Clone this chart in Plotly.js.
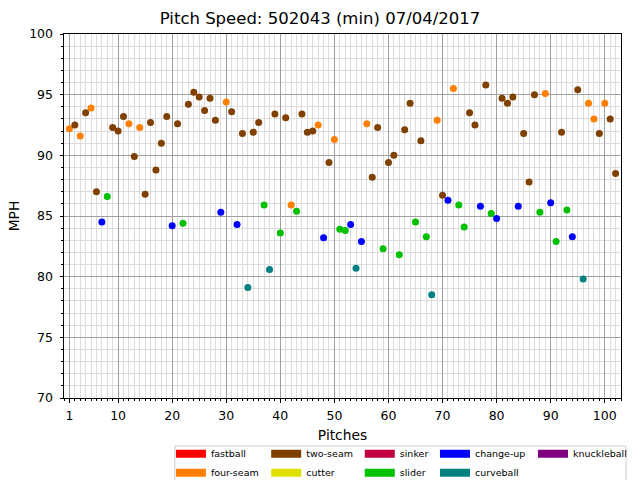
<!DOCTYPE html>
<html>
<head>
<meta charset="utf-8">
<script src="https://cdn.plot.ly/plotly-3.0.1.min.js"></script>
<style>html,body{margin:0;padding:0;background:#fff}</style>
</head>
<body>
<div id="chart" style="width:640px;height:480px"></div>
<script>
// speed of each pitch in mph, in throwing order
var speeds = [
    92.2, 92.5, 91.6, 93.5, 93.9, 87.0, 84.5, 86.6, 92.3, 92.0,
    93.2, 92.6, 89.9, 92.3, 86.8, 92.7, 88.8, 91.0, 93.2, 84.2,
    92.6, 84.4, 94.2, 95.2, 94.8, 93.7, 94.7, 92.9, 85.3, 94.4,
    93.6, 84.3, 91.8, 79.1, 91.9, 92.7, 85.9, 80.6, 93.4, 83.6,
    93.1, 85.9, 85.4, 93.4, 91.9, 92.0, 92.5, 83.2, 89.4, 91.3,
    83.9, 83.8, 84.3, 80.7, 82.9, 92.6, 88.2, 92.3, 82.3, 89.4,
    90.0, 81.8, 92.1, 94.3, 84.5, 91.2, 83.3, 78.5, 92.9, 86.7,
    86.3, 95.5, 85.9, 84.1, 93.5, 92.5, 85.8, 95.8, 85.2, 84.8,
    94.7, 94.3, 94.8, 85.8, 91.8, 87.8, 95.0, 85.3, 95.1, 86.1,
    82.9, 91.9, 85.5, 83.3, 95.4, 79.8, 94.3, 93.0, 91.8, 94.3,
    93.0, 88.5
];

// pitch type code of each pitch, same order
var types = [
    'FF','FT','FF','FT','FF','FT','CH','SL','FT','FT',
    'FT','FF','FT','FF','FT','FT','FT','FT','FT','CH',
    'FT','SL','FT','FT','FT','FT','FT','FT','CH','FF',
    'FT','CH','FT','CU','FT','FT','SL','CU','FT','SL',
    'FT','FF','SL','FT','FT','FT','FF','CH','FT','FF',
    'SL','SL','CH','CU','CH','FF','FT','FT','SL','FT',
    'FT','SL','FT','FT','SL','FT','SL','CU','FF','FT',
    'CH','FF','SL','SL','FT','FT','CH','FT','SL','CH',
    'FT','FT','FT','CH','FT','FT','FT','SL','FF','CH',
    'SL','FT','SL','CH','FT','CU','FF','FF','FT','FF',
    'FT','FT'
];

var typeCodes = ['FA', 'FF', 'FT', 'FC', 'SI', 'SL', 'CH', 'CU', 'KN'];
var typeNames = ['fastball', 'four-seam', 'two-seam', 'cutter', 'sinker',
                 'slider', 'change-up', 'curveball', 'knuckleball'];
var typeColors = ['#ff0000', '#ff8000', '#804000', '#e0e000', '#c00040',
                  '#00c000', '#0000ff', '#008080', '#800080'];

var xTicks = [1, 10, 20, 30, 40, 50, 60, 70, 80, 90, 100];

var pitchNo = speeds.map(function(s, i) { return i + 1; });
var legendIds = ['legend', 'legend2', 'legend3', 'legend4', 'legend5'];

var data = [];
typeCodes.forEach(function(code, k) {
    var xs = [], ys = [];
    types.forEach(function(t, i) {
        if (t === code) {
            xs.push(pitchNo[i]);
            ys.push(speeds[i]);
        }
    });
    if (xs.length) {
        data.push({
            x: xs, y: ys,
            type: 'scatter', mode: 'markers',
            name: typeNames[k],
            marker: {color: typeColors[k], size: 7},
            showlegend: false
        });
    }
});

// legend patches, two per column like the original
typeCodes.forEach(function(code, k) {
    data.push({
        x: [null], y: [null],
        type: 'scatter', mode: 'lines',
        name: typeNames[k],
        line: {color: typeColors[k], width: 8},
        legend: legendIds[Math.floor(k / 2)],
        hoverinfo: 'skip'
    });
});

function legendAt(x) {
    return {
        x: x, xanchor: 'left', y: -0.113, yanchor: 'top',
        orientation: 'v',
        bgcolor: 'rgba(0,0,0,0)', borderwidth: 0,
        font: {family: 'DejaVu Sans', size: 9.5, color: '#000'}
    };
}

var axisFont = {family: 'DejaVu Sans', size: 12.5, color: '#000'};

var layout = {
    width: 640, height: 480,
    margin: {l: 64, r: 19, t: 34, b: 82, autoexpand: false},
    paper_bgcolor: '#fff', plot_bgcolor: '#fff',
    font: {family: 'DejaVu Sans', color: '#000'},
    title: {
        text: 'Pitch Speed: 502043 (min) 07/04/2017',
        font: {family: 'DejaVu Sans', size: 16.5, color: '#000'},
        x: 0.5, xref: 'container', y: 0.962, yref: 'container', yanchor: 'middle'
    },
    xaxis: {
        range: [0, 103],
        tickmode: 'array', tickvals: xTicks,
        ticks: 'outside', ticklen: 3.5, tickwidth: 1, tickcolor: '#000',
        tickfont: axisFont, ticklabelstandoff: 2,
        showgrid: true, gridcolor: '#a0a0a0', gridwidth: 1,
        showline: true, linecolor: '#000', linewidth: 1, mirror: true,
        zeroline: false, automargin: true,
        minor: {tickmode: 'linear', tick0: 0, dtick: 1, ticks: 'outside', ticklen: 2,
                tickcolor: '#000', showgrid: true, gridcolor: '#dddddd', gridwidth: 1},
        title: {text: 'Pitches', standoff: 8,
                font: {family: 'DejaVu Sans', size: 13.8, color: '#000'}}
    },
    yaxis: {
        range: [70, 100],
        tickmode: 'linear', tick0: 70, dtick: 5,
        ticks: 'outside', ticklen: 3.5, tickwidth: 1, tickcolor: '#000',
        tickfont: axisFont, ticklabelstandoff: 4,
        showgrid: true, gridcolor: '#a0a0a0', gridwidth: 1,
        showline: true, linecolor: '#000', linewidth: 1, mirror: true,
        zeroline: false, automargin: true,
        minor: {tickmode: 'linear', tick0: 70, dtick: 1, ticks: 'outside', ticklen: 2,
                tickcolor: '#000', showgrid: true, gridcolor: '#dddddd', gridwidth: 1},
        title: {text: 'MPH', standoff: 6,
                font: {family: 'DejaVu Sans', size: 13.8, color: '#000'}}
    },
    legend: legendAt(0.192),
    legend2: legendAt(0.363),
    legend3: legendAt(0.531),
    legend4: legendAt(0.666),
    legend5: legendAt(0.842),
    shapes: [{
        type: 'rect', xref: 'paper', yref: 'paper',
        x0: 0.199, x1: 1.009, y0: -0.132, y1: -0.26,
        line: {color: '#cccccc', width: 1}, fillcolor: 'rgba(255,255,255,0.8)',
        layer: 'below'
    }],
    showlegend: true
};

Plotly.newPlot('chart', data, layout, {staticPlot: true, displayModeBar: false});
</script>
</body>
</html>
